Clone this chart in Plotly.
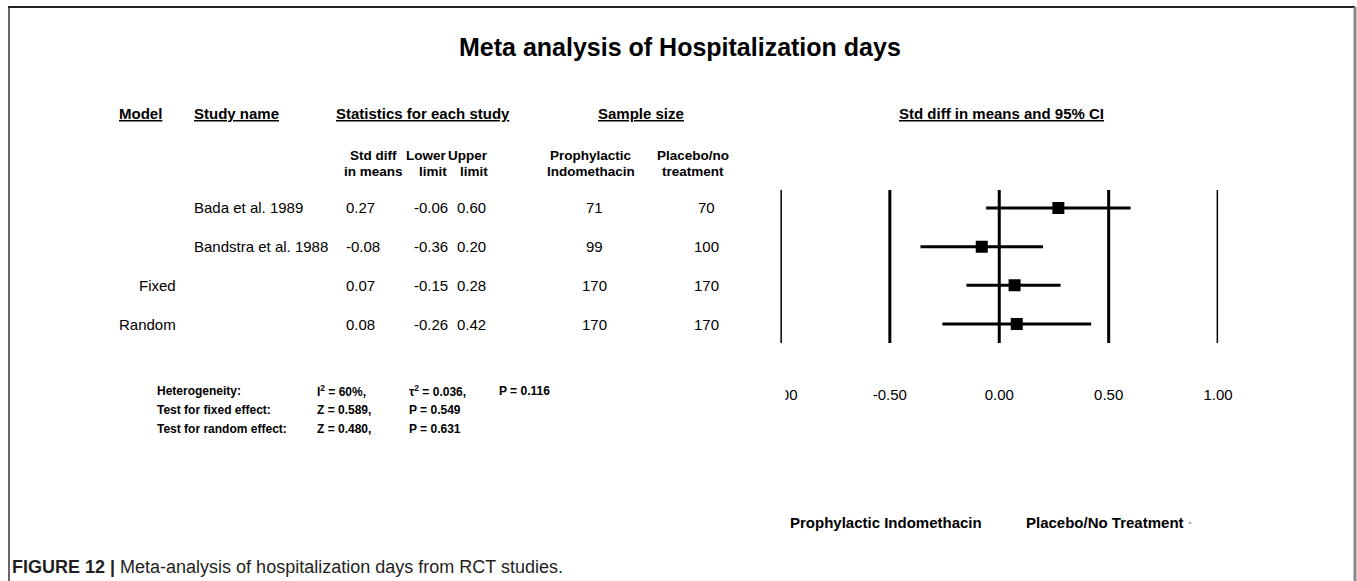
import plotly.graph_objects as go

W, H = 1357, 581

# ---- data ----
models = ["", "", "Fixed", "Random"]
studies = ["Bada et al. 1989", "Bandstra et al. 1988", "", ""]
std_diff = [0.27, -0.08, 0.07, 0.08]
lower = [-0.06, -0.36, -0.15, -0.26]
upper = [0.60, 0.20, 0.28, 0.42]
n_indo = [71, 99, 170, 170]
n_placebo = [70, 100, 170, 170]
rows = [1, 2, 3, 4]

tick_vals = [-1.0, -0.5, 0.0, 0.5, 1.0]
tick_text = ["-1.00", "-0.50", "0.00", "0.50", "1.00"]

het_labels = ["Heterogeneity:", "Test for fixed effect:", "Test for random effect:"]
het_col1 = ["I<sup>2</sup> = 60%,", "Z = 0.589,", "Z = 0.480,"]
het_col2 = ["\u03c4<sup>2</sup> = 0.036,", "P = 0.549", "P = 0.631"]
het_col3 = ["P = 0.116", "", ""]

FONT = "Liberation Sans, Arial, sans-serif"

# horizontal paper region observed in the rendered page
X0, XW = 16.0, 1326.0


def px(x):
    return (x - X0) / XW


def py(y):
    return 1 - y / H


fig = go.Figure()

# reference vertical lines
for v in tick_vals:
    fig.add_trace(go.Scatter(x=[v, v], y=[0.535, 4.49], mode="lines",
                             line=dict(color="black", width=3),
                             hoverinfo="skip", showlegend=False))

# confidence intervals
for r, lo, hi in zip(rows, lower, upper):
    fig.add_trace(go.Scatter(x=[lo, hi], y=[r, r], mode="lines",
                             line=dict(color="black", width=3),
                             hoverinfo="skip", showlegend=False))

# point estimates
fig.add_trace(go.Scatter(x=std_diff, y=rows, mode="markers",
                         marker=dict(symbol="square", size=12, color="black",
                                     line=dict(width=0)),
                         showlegend=False))

ann = []


def add(text, x, y, size=15, anchor="left", yref="paper", bold=False, family=FONT,
        color="black"):
    t = f"<b>{text}</b>" if bold else text
    ann.append(dict(text=t, x=px(x), y=(py(y) if yref == "paper" else y),
                    xref="paper", yref=yref, xanchor=anchor, yanchor="middle",
                    showarrow=False, font=dict(family=family, size=size, color=color)))


# title
add("Meta analysis of Hospitalization days", 680, 47, size=25, anchor="center", bold=True)

# headers
add("<u>Model</u>", 140, 113, size=15, anchor="center", bold=True)
add("<u>Study name</u>", 191, 113, size=15, anchor="left", bold=True)
add("<u>Statistics for each study</u>", 422, 113, size=15, anchor="center", bold=True)
add("<u>Sample size</u>", 640, 113, size=15, anchor="center", bold=True)
add("<u>Std diff in means and 95% CI</u>", 1001, 113, size=15, anchor="center", bold=True)

# sub headers
sub = [("Std diff", "in means", 373, "center"), ("Lower", "limit", 448, "right"),
       ("Upper", "limit", 489, "right"), ("Prophylactic", "Indomethacin", 590, "center"),
       ("Placebo/no", "treatment", 693, "center")]
for a, b, x, anc in sub:
    add(a, x, 155, size=13.5, anchor=anc, bold=True)
    add(b, x, 171, size=13.5, anchor=anc, bold=True)

# table rows
for r, m, s, d, lo, hi, n1, n2 in zip(rows, models, studies, std_diff, lower, upper, n_indo, n_placebo):
    if m:
        add(m, 177, r, anchor="right", yref="y")
    if s:
        add(s, 191, r, anchor="left", yref="y")
    add(f"{d:.2f}", 343, r, anchor="left", yref="y")
    add(f"{lo:.2f}", 411, r, anchor="left", yref="y")
    add(f"{hi:.2f}", 454, r, anchor="left", yref="y")
    add(str(n1), 594, r, anchor="center", yref="y")
    add(str(n2), 706, r, anchor="center", yref="y")

# heterogeneity block
for i, (a, b, c, d) in enumerate(zip(het_labels, het_col1, het_col2, het_col3)):
    yy = 391 + 19 * i
    add(a, 154, yy, size=12, bold=True)
    add(b, 314, yy, size=12, bold=True)
    add(c, 406, yy, size=12, bold=True)
    if d:
        add(d, 496, yy, size=12, bold=True)

# favour labels
add("Prophylactic Indomethacin", 886, 522, size=15, anchor="center", bold=True)
add("Placebo/No Treatment", 1105, 522, size=15, anchor="center", bold=True)
add("\u00b7", 1190, 522, size=15, anchor="center", bold=True, color="#aaaaaa")

# caption
ann.append(dict(text="<b>FIGURE 12 |</b> Meta-analysis of hospitalization days from RCT studies.",
                x=px(9), y=py(567), xref="paper", yref="paper", xanchor="left",
                yanchor="middle", showarrow=False,
                font=dict(family="Liberation Sans Narrow, Arial Narrow, sans-serif",
                          size=18, color="#231f20")))

shapes = [
    dict(type="line", xref="paper", yref="paper", x0=px(7), x1=px(1355), y0=py(7), y1=py(7),
         line=dict(color="#222", width=2)),
    dict(type="line", xref="paper", yref="paper", x0=px(8), x1=px(8), y0=py(7), y1=0,
         line=dict(color="#333", width=1.5)),
    dict(type="line", xref="paper", yref="paper", x0=px(1355), x1=px(1355), y0=py(7), y1=0,
         line=dict(color="#888", width=3)),
    # mask hiding the clipped left part of the first tick label
    dict(type="rect", xref="paper", yref="paper", x0=px(755), x1=px(785), y0=py(408), y1=py(383),
         fillcolor="white", line=dict(width=0), layer="above"),
]

fig.update_layout(
    width=W, height=H, autosize=False,
    margin=dict(l=0, r=0, t=0, b=0),
    paper_bgcolor="white", plot_bgcolor="white",
    annotations=ann, shapes=shapes,
    xaxis=dict(domain=[px(780), px(1218)], range=[-1, 1], tickvals=tick_vals,
               ticktext=tick_text, showgrid=False, zeroline=False, showline=False,
               ticks="", tickfont=dict(family=FONT, size=15, color="black"),
               tickprefix="<b>", ticksuffix="</b>", fixedrange=True),
    yaxis=dict(domain=[py(384), py(190)], range=[5.55, 0.535], visible=False,
               fixedrange=True),
    showlegend=False,
)

post = (
    "document.documentElement.style.overflow='hidden';"
    "document.body.style.margin='0';"
    "document.body.style.overflow='hidden';"
)

fig.write_html("out.html", config={"displayModeBar": False}, post_script=post)
